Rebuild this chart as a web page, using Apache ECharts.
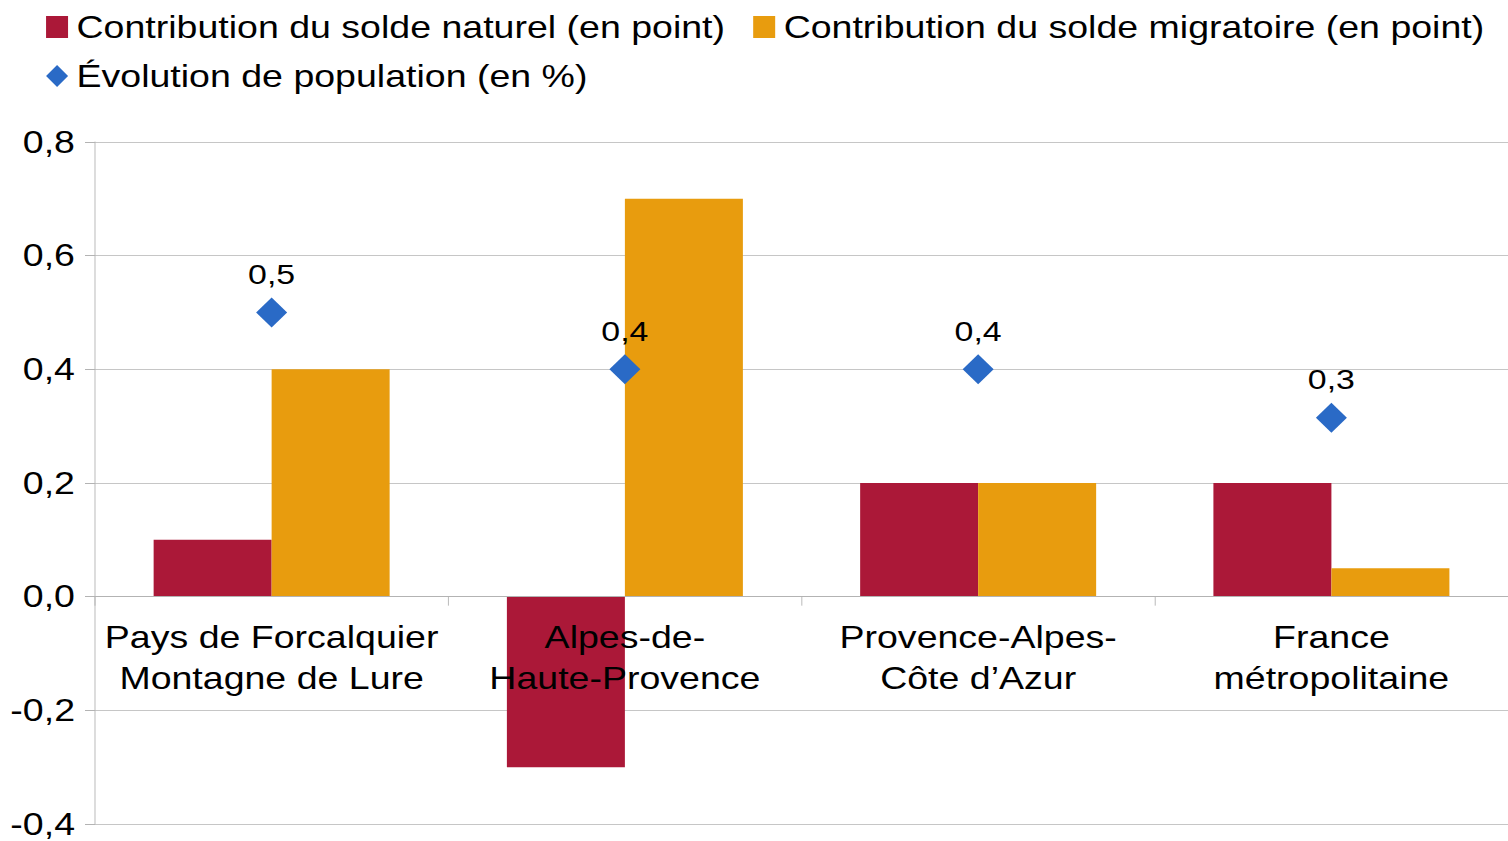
<!DOCTYPE html>
<html>
<head>
<meta charset="utf-8">
<script src="https://cdn.jsdelivr.net/npm/echarts@6/dist/echarts.min.js"></script>
<style>
  html, body { margin: 0; padding: 0; background: #fff; overflow: hidden; }
  /* the reference text is drawn wide: the chart is laid out narrower and stretched back to 1508px */
  #chart { width: 1246px; height: 841px; transform: scaleX(1.2103); transform-origin: 0 0; }
</style>
</head>
<body>
<div id="chart"></div>
<script>
// data
const categories = [
  'Pays de Forcalquier\nMontagne de Lure',
  'Alpes-de-\nHaute-Provence',
  'Provence-Alpes-\nCôte d’Azur',
  'France\nmétropolitaine'
];
const soldeNaturel = [0.1, -0.3, 0.2, 0.2];
const soldeMigratoire = [0.4, 0.7, 0.2, 0.05];
const evolution = [0.5, 0.4, 0.4, 0.315];

const seriesNames = [
  'Contribution du solde naturel (en point)',
  'Contribution du solde migratoire (en point)',
  'Évolution de population (en %)'
];

const sx = 1.2103; // horizontal stretch
const fmt = v => v.toFixed(1).replace('.', ',');
const font = 'Liberation Sans';

const legendText = { fontSize: 31, lineHeight: 36, color: '#000', fontFamily: font, padding: [0, 0, 0, 2] };

const chart = echarts.init(document.getElementById('chart'), null, { renderer: 'svg' });

chart.setOption({
  animation: false,
  textStyle: { fontFamily: font, color: '#000' },
  legend: [
    {
      left: 40 / sx,
      top: 4,
      itemWidth: 22 / sx,
      itemHeight: 22,
      itemGap: 28 / sx,
      textStyle: legendText,
      data: [
        { name: seriesNames[0], icon: 'rect' },
        { name: seriesNames[1], icon: 'rect' }
      ]
    },
    {
      left: 40 / sx,
      top: 53,
      itemWidth: 22 / sx,
      itemHeight: 22,
      textStyle: legendText,
      data: [{ name: seriesNames[2], icon: 'diamond' }]
    }
  ],
  grid: { left: 95 / sx, right: 0, top: 142, bottom: 17, outerBoundsMode: 'none', containLabel: false },
  xAxis: {
    type: 'category',
    data: categories,
    z: 10,
    axisLine: { onZero: true, lineStyle: { color: '#b3b3b3', width: 1 } },
    axisTick: { show: true, length: 9, lineStyle: { color: '#b3b3b3', width: 1 / sx } },
    // labels sit under the zero line, not at the bottom of the grid
    axisLabel: { interval: 0, fontSize: 31, lineHeight: 41, color: '#000', margin: -207, fontFamily: font }
  },
  yAxis: {
    type: 'value',
    min: -0.4,
    max: 0.8,
    interval: 0.2,
    axisLine: { show: true, lineStyle: { color: '#b3b3b3', width: 1 / sx } },
    axisTick: { show: true, length: 10 / sx, lineStyle: { color: '#b3b3b3' } },
    splitLine: { lineStyle: { color: '#c6c6c6' } },
    axisLabel: { fontSize: 31, color: '#000', margin: 20 / sx, fontFamily: font, formatter: fmt }
  },
  series: [
    {
      name: seriesNames[0],
      type: 'bar',
      data: soldeNaturel,
      barWidth: 118 / sx,
      barGap: '0%',
      itemStyle: { color: '#ab1838' }
    },
    {
      name: seriesNames[1],
      type: 'bar',
      data: soldeMigratoire,
      barWidth: 118 / sx,
      barGap: '0%',
      itemStyle: { color: '#e89c0e' }
    },
    {
      name: seriesNames[2],
      type: 'scatter',
      data: evolution,
      symbol: 'diamond',
      symbolSize: [31 / sx, 30],
      z: 5,
      itemStyle: { color: '#2a6ac6', opacity: 1 },
      label: {
        show: true,
        position: 'top',
        distance: 9,
        fontSize: 28,
        color: '#000',
        fontFamily: font,
        formatter: p => fmt(p.value)
      }
    }
  ]
});
</script>
</body>
</html>
